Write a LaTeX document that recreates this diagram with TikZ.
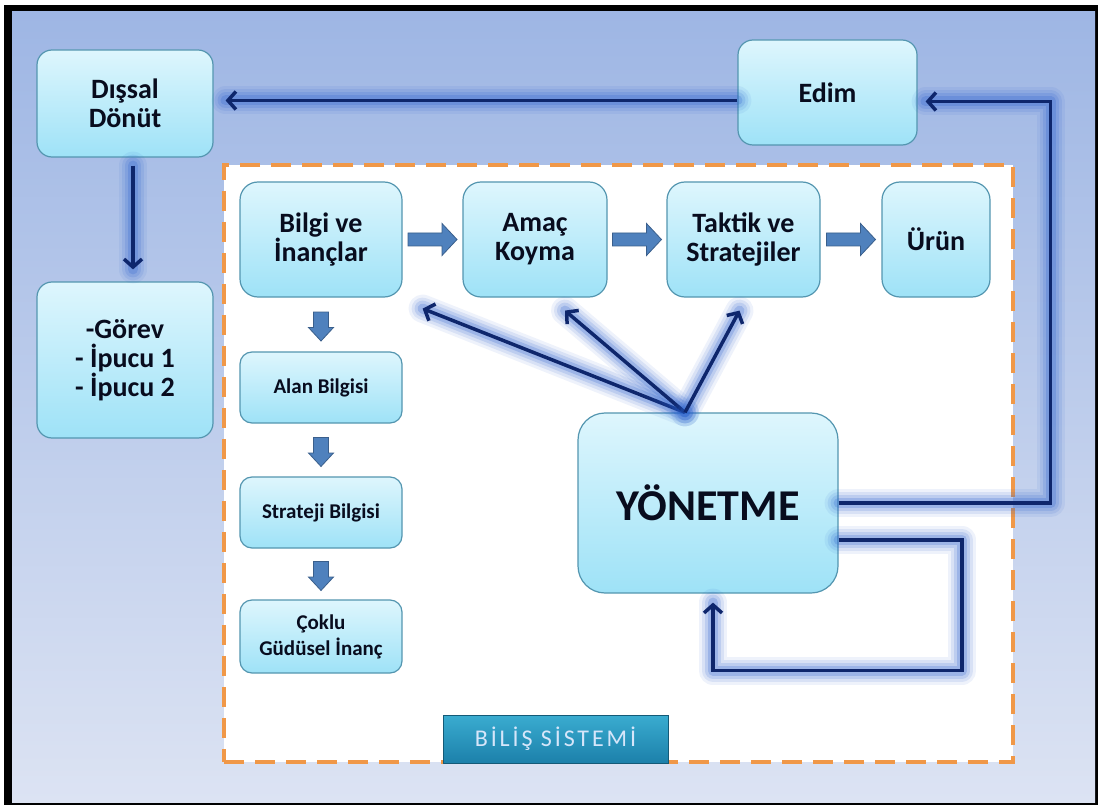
\documentclass[tikz,border=0pt]{standalone}
\usepackage{fontspec}
\setmainfont{Carlito}
\newfontfamily\labelfont[LetterSpace=12]{Carlito}
\usetikzlibrary{arrows.meta,calc}

\definecolor{bgtop}{RGB}{158,182,228}
\definecolor{bgbot}{RGB}{220,227,243}
\definecolor{boxtop}{RGB}{222,246,253}
\definecolor{boxbot}{RGB}{158,226,247}
\definecolor{boxline}{RGB}{84,150,176}
\definecolor{navy}{RGB}{14,38,108}
\definecolor{glowblue}{RGB}{40,95,205}
\definecolor{dashorange}{RGB}{240,152,72}
\definecolor{steel}{RGB}{79,129,189}
\definecolor{steeldark}{RGB}{58,95,140}
\definecolor{tealtop}{RGB}{58,172,208}
\definecolor{tealbot}{RGB}{28,128,170}
\definecolor{labeltext}{RGB}{214,230,250}
\definecolor{inktext}{RGB}{8,12,30}

\tikzset{
  box/.style={rounded corners=15pt, draw=boxline, line width=1.2pt,
    top color=boxtop, bottom color=boxbot, align=center, inner sep=0pt,
    text=inktext, font=\bfseries\fontsize{28}{29}\selectfont},
  smallbox/.style={box, rounded corners=12pt, minimum width=162pt,
    font=\bfseries\fontsize{21}{26}\selectfont},
  conn/.style={draw=navy, line width=3.5pt, line join=miter,
    -{Straight Barb[length=8pt,width=18pt]},
    preaction={draw=glowblue, line width=28pt, draw opacity=.08, arrows=-,
      line cap=round, line join=round},
    preaction={draw=glowblue, line width=22pt, draw opacity=.11, arrows=-,
      line cap=round, line join=round},
    preaction={draw=glowblue, line width=16pt, draw opacity=.15, arrows=-,
      line cap=round, line join=round},
    preaction={draw=glowblue, line width=10pt, draw opacity=.22, arrows=-,
      line cap=round, line join=round}},
  blockarrow/.style={fill=steel, draw=steeldark, line width=.8pt, line join=miter},
  rblock/.pic={\draw[blockarrow] (-24.5,-6.5) -- (9.5,-6.5) -- (9.5,-16) -- (24.5,0)
      -- (9.5,16) -- (9.5,6.5) -- (-24.5,6.5) -- cycle;},
  dblock/.pic={\draw[blockarrow] (-7.5,-14.5) -- (7.5,-14.5) -- (7.5,1) -- (12.5,1)
      -- (0,14.5) -- (-12.5,1) -- (-7.5,1) -- cycle;}
}

\begin{document}
\begin{tikzpicture}[x=1pt,y=-1pt]
\useasboundingbox (0,0) rectangle (1098,805);

% frame and backdrop
\fill[white] (0,0) rectangle (1098,805);
\fill[black] (4,5) rectangle (1098,805);
\shade[top color=bgtop, bottom color=bgbot] (12,12) rectangle (1095,802);

% cognitive system area
\node[draw=dashorange, line width=4pt, dash pattern=on 20pt off 11pt, fill=white,
  minimum width=789pt, minimum height=597pt, inner sep=0pt] (sistem) at (618.5,463.5) {};

% outer boxes
\node[box, minimum width=176pt, minimum height=107pt] (dissal) at (125,103.5) {Dışsal\\Dönüt};
\node[box, minimum width=179pt, minimum height=105pt] (edim) at (827.5,92.5) {Edim};
\node[box, minimum width=176pt, minimum height=156pt] (gorev) at (125,360) {-Görev\\- İpucu 1\\- İpucu 2};

% top row
\node[box, rounded corners=18pt, minimum width=162pt, minimum height=115pt] (bilgi) at (321,239.5) {Bilgi ve\\İnançlar};
\node[box, rounded corners=18pt, minimum width=144pt, minimum height=115pt] (amac) at (535,239.5) {Amaç\\Koyma};
\node[box, rounded corners=18pt, minimum width=153pt, minimum height=115pt] (taktik) at (743.5,239.5) {Taktik ve\\Stratejiler};
\node[box, rounded corners=18pt, minimum width=108pt, minimum height=115pt] (urun) at (936,239.5) {Ürün};

% knowledge column
\node[smallbox, minimum height=71pt] (alan) at (321,387.5) {Alan Bilgisi};
\node[smallbox, minimum height=71pt] (strateji) at (321,512.5) {Strateji Bilgisi};
\node[smallbox, minimum height=73pt] (coklu) at (321,636.5) {Çoklu\\Güdüsel İnanç};

% control box
\node[box, rounded corners=27pt, minimum width=260pt, minimum height=180pt,
  font=\bfseries\fontsize{44}{46}\selectfont] (yonetme) at (708,503) {YÖNETME};

% title tab
\node[draw=tealbot!70!black, line width=.8pt, top color=tealtop, bottom color=tealbot,
  minimum width=225pt, minimum height=48pt, inner sep=0pt, text=labeltext,
  font=\labelfont\fontsize{24}{26}\selectfont] (bilis) at (555.5,739) {BİLİŞ SİSTEMİ};

% block arrows
\pic at ($(bilgi.east)!.5!(amac.west)$) {rblock};
\pic at ($(amac.east)!.5!(taktik.west)$) {rblock};
\pic at ($(taktik.east)!.5!(urun.west)$) {rblock};
\pic at ($(bilgi.south)!.5!(alan.north)+(0,2)$) {dblock};
\pic at ($(alan.south)!.5!(strateji.north)+(0,2)$) {dblock};
\pic at ($(strateji.south)!.5!(coklu.north)+(0,2)$) {dblock};

% feedback connectors
\draw[conn] ($(edim.west |- dissal.east)+(0,-3)$) -- ($(dissal.east)+(12,-3)$);
\draw[conn] ($(dissal.south)+(8,8)$) -- ($(gorev.north)+(8,-12)$);
\draw[conn] (yonetme.east) -| ($(edim.east)+(133,9)$) -- ($(edim.east)+(8,9)$);
\draw[conn] ($(yonetme.east)+(0,37)$) -| ($(yonetme.south)+(254,77)$) -| ($(yonetme.south)+(5,9)$);

% control arrows
\coordinate (hub) at ($(yonetme.north)+(-23,0)$);
\draw[conn] (hub) -- ($(bilgi.south east)+(20,11)$);
\draw[conn] (hub) -- ($(amac.south)+(30,13)$);
\draw[conn] (hub) -- ($(taktik.south)+(-4,13)$);
\end{tikzpicture}
\end{document}
